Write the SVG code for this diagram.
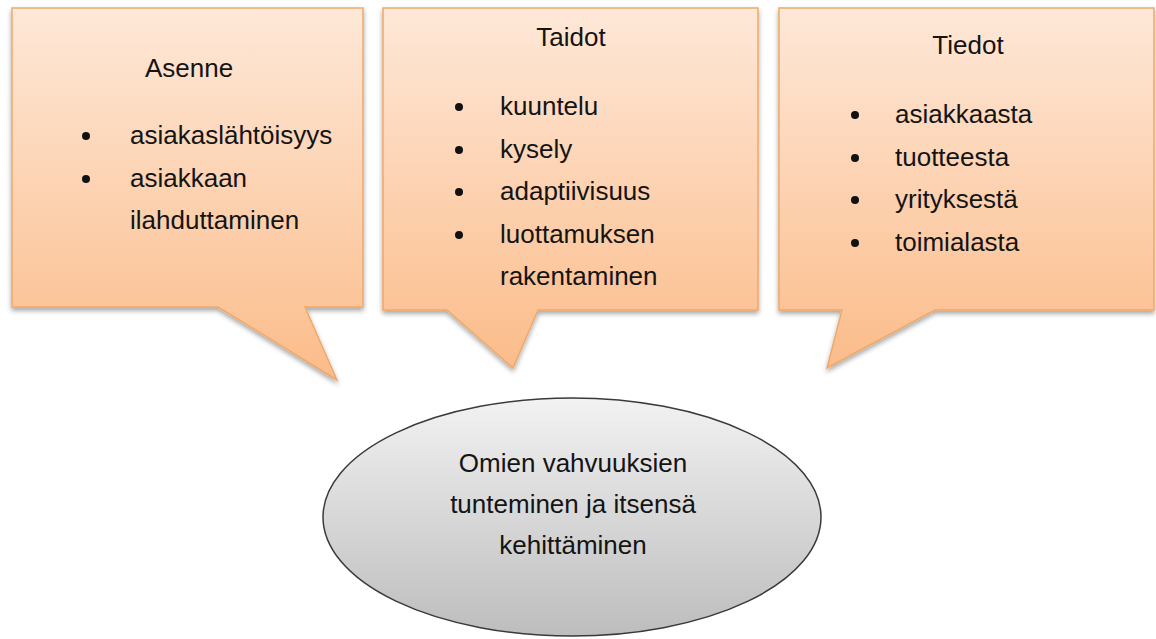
<svg xmlns="http://www.w3.org/2000/svg" width="1156" height="639" viewBox="0 0 1156 639">
<style>
.box{fill:url(#peach);stroke:#f0a868;stroke-width:1.5;filter:url(#sh)}
.t{font-family:"Liberation Sans",Arial,sans-serif;font-size:26px;fill:#141414}
.c{text-anchor:middle}
.b{fill:#111}
</style>
<defs>
<linearGradient id="peach" x1="0" y1="0" x2="0" y2="1">
<stop offset="0" stop-color="#fee8d8"/>
<stop offset="1" stop-color="#fbbc8a"/>
</linearGradient>
<linearGradient id="gray" x1="0" y1="0" x2="0" y2="1">
<stop offset="0" stop-color="#f2f2f2"/>
<stop offset="1" stop-color="#bdbdbd"/>
</linearGradient>
<filter id="sh" x="-10%" y="-10%" width="120%" height="130%">
<feGaussianBlur in="SourceAlpha" stdDeviation="2.5"/>
<feOffset dx="0" dy="3" result="o"/>
<feComponentTransfer><feFuncA type="linear" slope="0.35"/></feComponentTransfer>
<feMerge><feMergeNode/><feMergeNode in="SourceGraphic"/></feMerge>
</filter>
</defs>
<g id="asenne">
<path class="box" d="M12,8 H363 V307 H305 L337,380 L218,307 H12 Z"/>
<text class="t" x="145" y="77">Asenne</text>
<circle class="b" cx="86" cy="136" r="4"/>
<text class="t" x="130" y="144">asiakaslähtöisyys</text>
<circle class="b" cx="86" cy="179" r="4"/>
<text class="t" x="130" y="187">asiakkaan</text>
<text class="t" x="130" y="229">ilahduttaminen</text>
</g>
<g id="taidot">
<path class="box" d="M383,8 H758 V310 H538 L513,368 L447,310 H383 Z"/>
<text class="t c" x="571" y="46">Taidot</text>
<circle class="b" cx="459" cy="107" r="4"/>
<text class="t" x="500" y="115">kuuntelu</text>
<circle class="b" cx="459" cy="150" r="4"/>
<text class="t" x="500" y="158">kysely</text>
<circle class="b" cx="459" cy="192" r="4"/>
<text class="t" x="500" y="200">adaptiivisuus</text>
<circle class="b" cx="459" cy="235" r="4"/>
<text class="t" x="500" y="243">luottamuksen</text>
<text class="t" x="500" y="285">rakentaminen</text>
</g>
<g id="tiedot">
<path class="box" d="M779,8 H1154 V310 H935 L827,368 L842,310 H779 Z"/>
<text class="t c" x="968" y="54">Tiedot</text>
<circle class="b" cx="855" cy="115" r="4"/>
<text class="t" x="895" y="123">asiakkaasta</text>
<circle class="b" cx="855" cy="158" r="4"/>
<text class="t" x="895" y="166">tuotteesta</text>
<circle class="b" cx="855" cy="200" r="4"/>
<text class="t" x="895" y="208">yrityksestä</text>
<circle class="b" cx="855" cy="243" r="4"/>
<text class="t" x="895" y="251">toimialasta</text>
</g>
<g id="keskus">
<ellipse cx="572" cy="517" rx="249" ry="119" fill="url(#gray)" stroke="#3a3a3a" stroke-width="1.5"/>
<text class="t c" x="573" y="472">Omien vahvuuksien</text>
<text class="t c" x="573" y="513">tunteminen ja itsensä</text>
<text class="t c" x="573" y="554">kehittäminen</text>
</g>
<g id="connectors"/>
</svg>
